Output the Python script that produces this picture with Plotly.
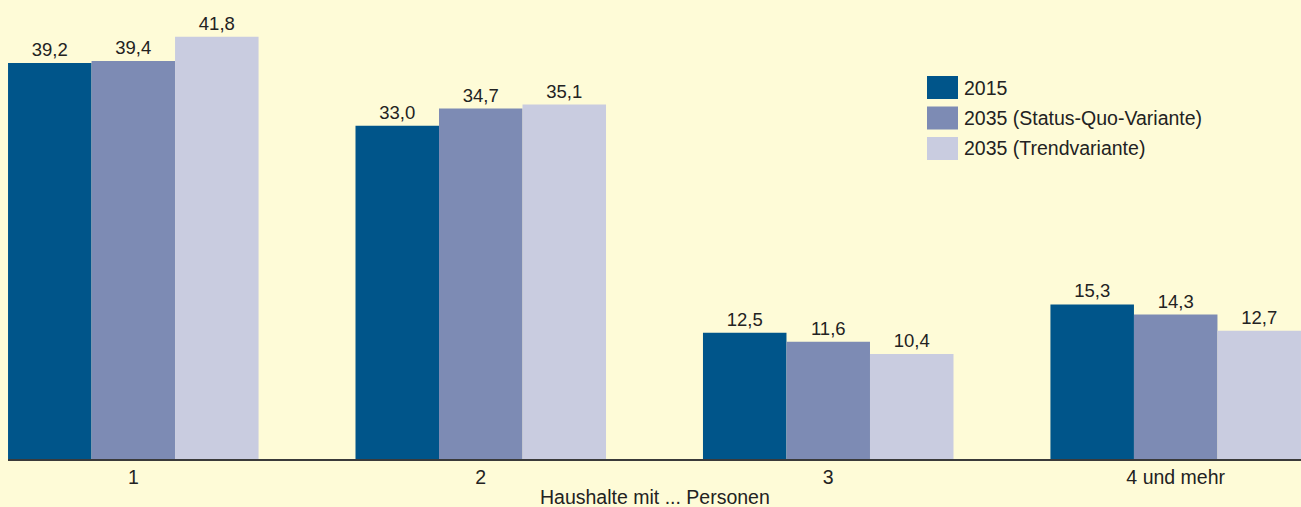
import plotly.graph_objects as go

# Household sizes and shares (%) of households
categories = ["1", "2", "3", "4 und mehr"]
series_names = ["2015", "2035 (Status-Quo-Variante)", "2035 (Trendvariante)"]
values_2015 = [39.2, 33.0, 12.5, 15.3]
values_2035_sq = [39.4, 34.7, 11.6, 14.3]
values_2035_trend = [41.8, 35.1, 10.4, 12.7]

colors = ["#00558A", "#7D8BB4", "#C9CCE0"]
bg = "#FEFBD7"
font_family = "Liberation Sans, Arial, sans-serif"
text_color = "#222222"

W, H = 1301, 507
ML, MB = 8, 48
PW, PH = W - ML, H - MB

fig = go.Figure()
for name, vals, col in zip(series_names, [values_2015, values_2035_sq, values_2035_trend], colors):
    fig.add_trace(go.Bar(
        x=list(range(len(categories))),
        y=vals,
        name=name,
        marker=dict(color=col, line=dict(width=0)),
        texttemplate="%{y:.1f}",
        textposition="outside",
        textfont=dict(size=18.5, color=text_color, family=font_family),
        cliponaxis=False,
        showlegend=False,
    ))

# Legend drawn as swatches plus labels
leg_x0, leg_y0, sw_w, sw_h, step = 927, 76, 31, 23, 30.5
for i, (name, col) in enumerate(zip(series_names, colors)):
    top = leg_y0 + i * step
    fig.add_shape(type="rect", xref="paper", yref="paper",
                  x0=(leg_x0 - ML) / PW, x1=(leg_x0 + sw_w - ML) / PW,
                  y0=1 - (top + sw_h) / PH, y1=1 - top / PH,
                  fillcolor=col, line=dict(width=0), layer="above")
    fig.add_annotation(xref="paper", yref="paper",
                       x=(leg_x0 + sw_w + 4 - ML) / PW, y=1 - (top + sw_h / 2) / PH,
                       text=name, showarrow=False, xanchor="left", yanchor="middle",
                       font=dict(size=19.5, color=text_color, family=font_family))

# Axis title below the category labels
fig.add_annotation(xref="paper", yref="paper", x=0.5, y=0, yshift=-38,
                   text="Haushalte mit ... Personen", showarrow=False,
                   xanchor="center", yanchor="middle",
                   font=dict(size=19.5, color=text_color, family=font_family))

fig.update_layout(
    width=W, height=H,
    margin=dict(l=ML, r=0, t=0, b=MB, pad=0),
    paper_bgcolor=bg, plot_bgcolor=bg,
    barmode="group", bargap=0.279, bargroupgap=0,
    separators=",.",
    font=dict(family=font_family, color=text_color, size=19),
    showlegend=False,
)
fig.update_xaxes(
    tickmode="array", tickvals=list(range(len(categories))), ticktext=categories,
    range=[-0.3606, 3.3606],
    showline=True, linecolor="#3A3A3A", linewidth=2,
    ticks="", showgrid=False, zeroline=False, automargin=False,
    tickfont=dict(size=19.5, color=text_color),
)
fig.update_yaxes(range=[0, 45.45], visible=False, showgrid=False, zeroline=False)

fig.write_html("out.html")
